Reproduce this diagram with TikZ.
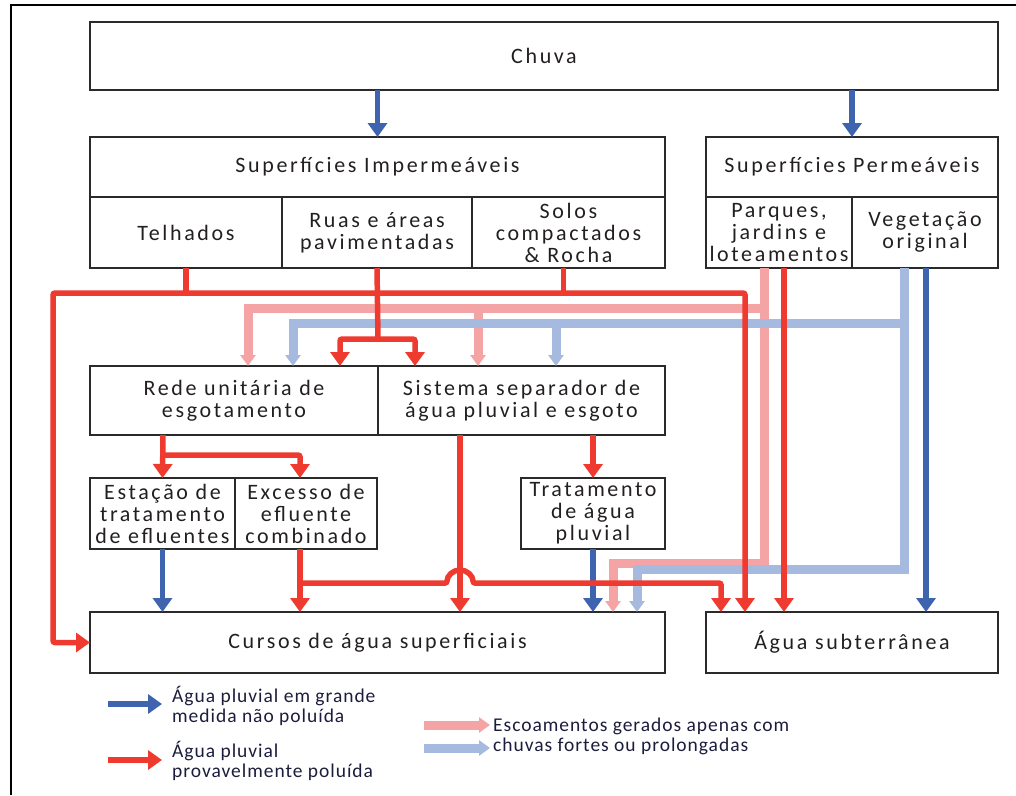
\documentclass[tikz,border=0pt]{standalone}
\usepackage{fontspec}
\setmainfont{Carlito}
\newfontfamily\boxf[LetterSpace=12]{Carlito}
\newfontfamily\legf[LetterSpace=5]{Carlito}
\usetikzlibrary{arrows.meta}
\definecolor{rdc}{HTML}{EE3A2F}
\definecolor{blc}{HTML}{3E64B0}
\definecolor{pkc}{HTML}{F4A4A4}
\definecolor{lbc}{HTML}{A6B9DF}
\definecolor{boxgray}{HTML}{2A2A2A}
\definecolor{txt}{HTML}{231F20}
\definecolor{legtxt}{HTML}{1C1C3C}
\tikzset{
  box/.style={draw=boxgray, line width=1.3pt, inner sep=0pt, outer sep=0pt, align=center,
    text=txt, font=\boxf\fontsize{22}{22}\selectfont},
  redl/.style={draw=rdc, line width=5.5pt, rounded corners=2pt},
  bluel/.style={draw=blc, line width=5.5pt},
  pinkl/.style={draw=pkc, line width=9pt},
  lbluel/.style={draw=lbc, line width=9pt},
  tipA/.style={-{Triangle[width=19pt,length=14pt]}},
  tipAA/.style={{Triangle[width=19pt,length=14pt]}-{Triangle[width=19pt,length=14pt]}},
  tipH/.style={-{Triangle[width=15pt,length=11pt]}},
  legtext/.style={anchor=west, align=left, inner sep=0pt, text=legtxt, font=\legf\fontsize{19.5}{20}\selectfont},
}
\begin{document}
\begin{tikzpicture}[x=1pt,y=-1pt]
\useasboundingbox (0,0) rectangle (1016,795);
% frame
\draw[line width=2.5pt] (11,795) -- (11,5) -- (1016,5);

% boxes
\node[box, minimum width=908pt, minimum height=68pt] (chuva) at (544,56) {Chuva};
\node[box, minimum width=575pt, minimum height=60pt] (imp) at (377.5,167) {\raisebox{3pt}{Superfícies Impermeáveis}};
\node[box, minimum width=192pt, minimum height=71pt] (telhados) at (186,232.5) {Telhados};
\node[box, minimum width=190pt, minimum height=71pt] (ruas) at (377,232.5) {Ruas e áreas\\pavimentadas};
\node[box, minimum width=193pt, minimum height=71pt] (solos) at (568.5,232.5) {Solos\\compactados\\\& Rocha};
\node[box, minimum width=292pt, minimum height=60pt] (perm) at (852,167) {\raisebox{3pt}{Superfícies Permeáveis}};
\node[box, minimum width=146pt, minimum height=71pt] (parques) at (779,232.5) {Parques,\\jardins e\\loteamentos};
\node[box, minimum width=146pt, minimum height=71pt] (veg) at (925,232.5) {Vegetação\\original};
\node[box, minimum width=288pt, minimum height=69pt] (rede) at (234,400.5) {Rede unitária de\\esgotamento};
\node[box, minimum width=287pt, minimum height=69pt] (sist) at (521.5,400.5) {Sistema separador de\\água pluvial e esgoto};
\node[box, minimum width=145pt, minimum height=71pt] (estacao) at (162.5,513.5) {Estação de\\tratamento\\de efluentes};
\node[box, minimum width=142pt, minimum height=71pt] (excesso) at (306,513.5) {Excesso de\\efluente\\combinado};
\node[box, minimum width=144pt, minimum height=71pt] (trat) at (593,513.5) {Tratamento\\de água\\pluvial};
\node[box, minimum width=575pt, minimum height=61pt] (cursos) at (377.5,642.5) {Cursos de água superficiais};
\node[box, minimum width=292pt, minimum height=61pt] (subt) at (852,642.5) {Água subterrânea};

% helper coordinates
\coordinate (busL) at (53,293);
\coordinate (busR) at (745,293);
\coordinate (jr) at (378,339);
\coordinate (jrL) at (340,339);
\coordinate (jrR) at (415,339);
\coordinate (pk) at (764,308);
\coordinate (pkL) at (248,308);
\coordinate (pkB) at (478,308);
\coordinate (pkLow) at (764,563);
\coordinate (pkC) at (613,563);
\coordinate (lb) at (904,323);
\coordinate (lbL) at (293,323);
\coordinate (lbB) at (556,323);
\coordinate (lbLow) at (904,569);
\coordinate (lbC) at (637,569);
\coordinate (rdJ) at (163,455);
\coordinate (exJ) at (300,583);
\coordinate (hopA) at (447,583);
\coordinate (exR) at (721,583);
\coordinate (sd) at (460,435);
\coordinate (pr) at (784,268);
\coordinate (vb) at (926,268);

% hatched (heavy rain) flows
\draw[pinkl, tipH] (pk |- parques.south) -- (pkLow) -| (pkC |- cursos.north);
\draw[pinkl, tipH] (pk) -- (pkL) -- (pkL |- rede.north);
\draw[pinkl, tipH] (pkB) -- (pkB |- sist.north);
\draw[lbluel, tipH] (lb |- veg.south) -- (lbLow) -| (lbC |- cursos.north);
\draw[lbluel, tipH] (lb) -- (lbL) -- (lbL |- rede.north);
\draw[lbluel, tipH] (lbB) -- (lbB |- sist.north);

% blue flows
\draw[bluel, tipA] (chuva.south -| imp.north) -- (imp.north);
\draw[bluel, tipA] (chuva.south -| perm.north) -- (perm.north);
\draw[bluel, tipA] (estacao.south) -- (estacao.south |- cursos.north);
\draw[bluel, tipA] (trat.south) -- (trat.south |- cursos.north);
\draw[bluel, tipA] (vb) -- (vb |- subt.north);

% red flows
\draw[redl] (telhados.south) -- (telhados.south |- busL);
\draw[redl] ([xshift=-5pt]solos.south) -- ([xshift=-5pt]solos.south |- busL);
\draw[redl, tipAA] (cursos.west) -| (busL) -- (busR) -- (busR |- subt.north);
\draw[redl] (ruas.south) -- (jr);
\draw[redl, tipAA] (jrL |- rede.north) -- (jrL) -- (jrR) -- (jrR |- sist.north);
\draw[redl, tipA] (pr) -- (pr |- subt.north);
\draw[redl, tipA] (rdJ |- rede.south) -- (estacao.north);
\draw[redl, tipA] (rdJ) -| (exJ |- excesso.north);
\draw[redl, tipA] (trat.north |- sist.south) -- (trat.north);
\draw[redl, tipA] (exJ |- excesso.south) -- (exJ |- cursos.north);
\draw[redl, tipA] (sd) -- (sd |- cursos.north);
\draw[redl, tipA] (exJ) -- (hopA) arc[start angle=180, end angle=0, radius=13pt] -- (exR) -- (exR |- subt.north);

% legend
\coordinate (lg1a) at (108,704); \coordinate (lg1b) at (162,704);
\coordinate (lg2a) at (108,760); \coordinate (lg2b) at (162,760);
\coordinate (lg3a) at (424,725); \coordinate (lg3b) at (490,725);
\coordinate (lg4a) at (424,748); \coordinate (lg4b) at (490,748);
\draw[bluel, tipA] (lg1a) -- (lg1b);
\draw[redl, tipA] (lg2a) -- (lg2b);
\draw[pinkl, tipH] (lg3a) -- (lg3b);
\draw[lbluel, tipH] (lg4a) -- (lg4b);
\node[legtext] (leg1) at (172,706) {Água pluvial em grande\\medida não poluída};
\node[legtext] (leg2) at (172,761) {Água pluvial\\provavelmente poluída};
\node[legtext] (leg3) at (493,736) {Escoamentos gerados apenas com\\chuvas fortes ou prolongadas};
\end{tikzpicture}
\end{document}
